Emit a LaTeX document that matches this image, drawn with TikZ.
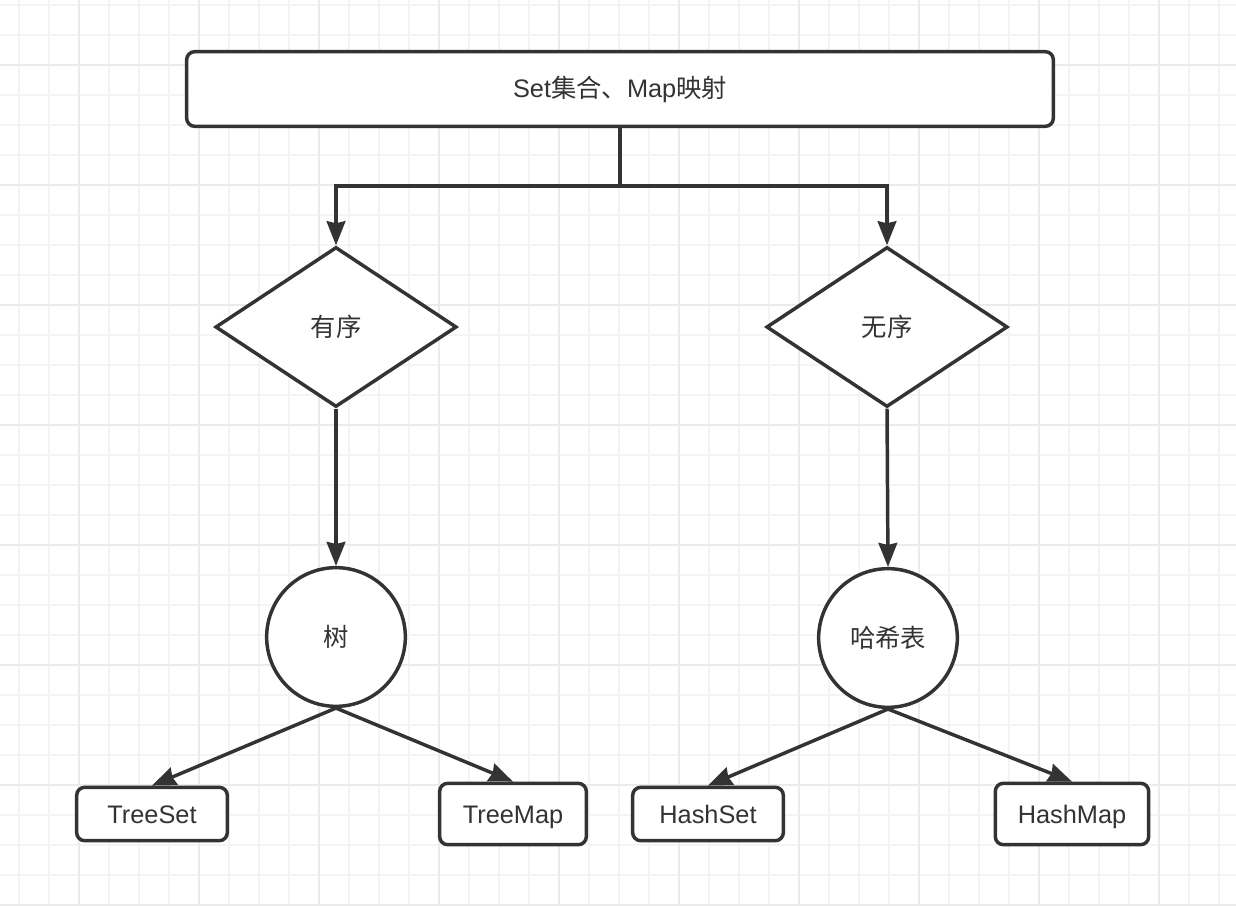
\documentclass[tikz,border=0pt]{standalone}
\usepackage{fontspec}
\setmainfont{Liberation Sans}
\newfontfamily\cjk{Noto Sans CJK SC}
\usetikzlibrary{shapes.geometric,arrows.meta}
\definecolor{ink}{HTML}{333333}
\definecolor{gridminor}{HTML}{F4F4F4}
\definecolor{gridmajor}{HTML}{EBEBEB}
\tikzset{
  txt/.style={text=ink, inner sep=0pt, font=\fontsize{19}{23}\selectfont, text height=13.5pt, text depth=0pt},
  box/.style={txt, draw=ink, line width=2.6pt, rounded corners=6pt, fill=white},
  decide/.style={txt, draw=ink, line width=2.6pt, diamond, aspect=1.5, fill=white, minimum width=181pt, minimum height=120pt},
  roundnode/.style={txt, draw=ink, line width=2.6pt, circle, fill=white, minimum size=104pt},
  arr/.style={draw=ink, line width=2.6pt, -{Stealth[length=18pt,width=14pt,inset=1.5pt]}},
  minorline/.style={draw=gridminor, line width=1.2pt},
  majorline/.style={draw=gridmajor, line width=1.3pt},
}
\begin{document}
\begin{tikzpicture}[x=0.75pt,y=-0.75pt]
\useasboundingbox (0,0) rectangle (1236,906);
\fill[white] (0,0) rectangle (1236,906);
% grid
\foreach \x in {19,49,...,1236} \draw[minorline] (\x,0) -- (\x,906);
\foreach \y in {5,35,...,906} \draw[minorline] (0,\y) -- (1236,\y);
\foreach \x in {79,199,...,1236} \draw[majorline] (\x,0) -- (\x,906);
\foreach \y in {65,185,...,906} \draw[majorline] (0,\y) -- (1236,\y);
% nodes
\node[box, minimum width=650pt, minimum height=56pt] (top) at (620,89) {Set{\cjk 集合、}Map{\cjk 映射}};
\node[decide] (ordered) at (336,327) {\cjk 有序};
\node[decide] (unordered) at (887,327) {\cjk 无序};
\node[roundnode] (tree) at (336,637) {\cjk 树};
\node[roundnode] (hash) at (888,638) {\cjk 哈希表};
\node[box, minimum width=113pt, minimum height=40pt] (treeset) at (152,814) {TreeSet};
\node[box, minimum width=110pt, minimum height=46pt] (treemap) at (513,814) {TreeMap};
\node[box, minimum width=113pt, minimum height=40pt] (hashset) at (708,814) {HashSet};
\node[box, minimum width=115pt, minimum height=46pt] (hashmap) at (1072,814) {HashMap};
% connectors
\coordinate (split) at (620,186);
\draw[arr] (top.south) -- (split) -| (ordered.north);
\draw[arr] (split) -| (unordered.north);
\draw[arr] (ordered.south) -- (tree.north);
\draw[arr] (unordered.south) -- (hash.north);
\draw[arr] (tree.south) -- (treeset.north);
\draw[arr] (tree.south) -- (treemap.north);
\draw[arr] (hash.south) -- (hashset.north);
\draw[arr] (hash.south) -- (hashmap.north);
\end{tikzpicture}
\end{document}
